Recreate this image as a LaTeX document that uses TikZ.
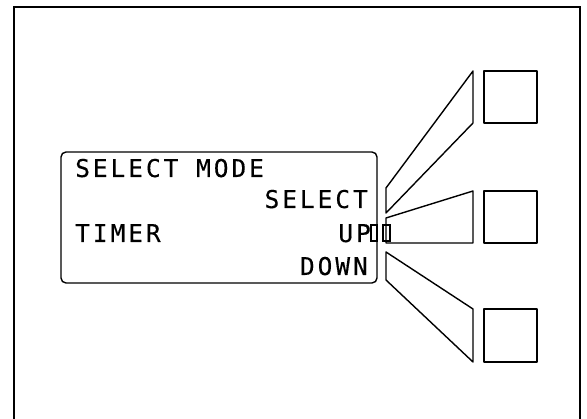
\documentclass[tikz,border=0pt]{standalone}
\usepackage{fontspec}
\newfontfamily\lcdfont[LetterSpace=12,FakeBold=0.3]{DejaVu Sans Mono}

\begin{document}
\begin{tikzpicture}[x=1pt,y=-1pt,
	lcd/.style={font=\lcdfont\fontsize{24.5}{24.5}\selectfont, inner sep=0pt},
	part/.style={line width=1.4pt, line join=round}]

	\useasboundingbox (0,0) rectangle (587,419) ;

	% outer frame, open at the bottom
	\draw [line width=2.4pt] (14,425) -- (14,7) -- (580,7) -- (580,425) ;

	% display
	\draw [part, rounded corners=5pt] (61,152) rectangle (377,283) ;
	\node[lcd, anchor=base west] (mode) at (75,177) {SELECT MODE} ;
	\node[lcd, anchor=base east] (select) at (368,208) {SELECT} ;
	\node[lcd, anchor=base west] (timer) at (75,242) {TIMER} ;
	\node[lcd, anchor=base east] (up) at (371,242) {UP} ;
	\node[lcd, anchor=base east] (down) at (368,275) {DOWN} ;
	\draw [line width=2.8pt] (371,225) rectangle (377,241) ;
	\draw [line width=2.8pt] (383,225) rectangle (390,241) ;

	% levers
	\draw [part] (386,188) -- (473,71) -- (473,123) -- (386,213) -- cycle ;
	\draw [part] (386,218) -- (473,191) -- (473,243) -- (386,243) -- cycle ;
	\draw [part] (386,252) -- (473,309) -- (473,362) -- (386,280) -- cycle ;

	% keys
	\draw [part] (484,71) rectangle (537,123) ;
	\draw [part] (484,191) rectangle (537,243) ;
	\draw [part] (484,309) rectangle (537,362) ;

\end{tikzpicture}
\end{document}
